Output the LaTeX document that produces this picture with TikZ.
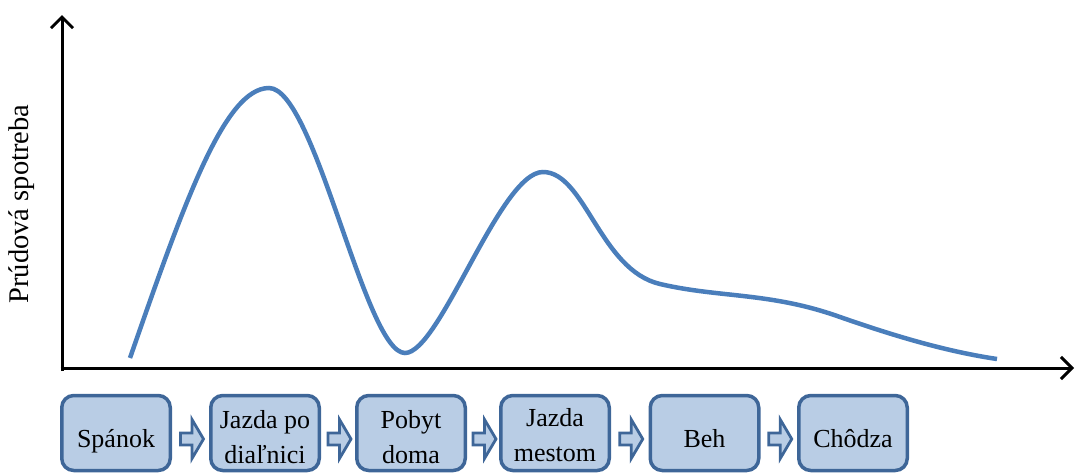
\documentclass[tikz,border=0pt]{standalone}
\usepackage{fontspec}
\setmainfont{Liberation Serif}
\usetikzlibrary{arrows.meta,calc}
\definecolor{stagefill}{HTML}{B9CDE5}
\definecolor{stageedge}{HTML}{3E6698}
\definecolor{curveblue}{HTML}{4A7EBB}
\tikzset{
  pics/flowarrow/.style={code={
    \draw[line width=2.8pt, draw=stageedge, fill=stagefill, line join=miter]
      (-11.5,-6) -- (0,-6) -- (0,-19.5) -- (11.5,0) -- (0,19.5) -- (0,6) -- (-11.5,6) -- cycle;
  }}
}
\begin{document}
\begin{tikzpicture}[x=1pt,y=-1pt,
  stage/.style={draw=stageedge, fill=stagefill, line width=3.5pt, rounded corners=12pt,
    minimum width=108.5pt, minimum height=75pt, inner sep=0pt},
  stagetext/.style={font=\fontsize{26}{35}\selectfont, align=center, inner sep=0pt},
  oneline/.style={stagetext, text height=18pt, text depth=6pt},
  axis/.style={line width=3pt, -{Straight Barb[length=11pt,width=22pt]}},
  usage/.style={draw=curveblue, line width=4.5pt, line cap=butt}
]
\useasboundingbox (0,0) rectangle (1076,475);

% axes
\coordinate (O) at (62,368);
\coordinate (ytop) at (62,15);
\coordinate (xend) at (1074,368);
\draw[axis] ([yshift=-3pt]O) -- (ytop);
\draw[axis] ([xshift=-1.5pt]O) -- (xend);

\node[font=\fontsize{28.5}{30}\selectfont, rotate=90, inner sep=0pt] (ylab) at (22,204) {Prúdová spotreba};

% current consumption over the day
\draw[usage] (130,358)
  .. controls (185,200) and (225,88) .. (269,88)
  .. controls (315,88) and (365,353) .. (405,353)
  .. controls (440,353) and (500,172) .. (543,172)
  .. controls (585,172) and (600,270) .. (660,284)
  .. controls (720,298) and (770,292) .. (840,317)
  .. controls (900,338) and (950,352) .. (997,359);

% activity sequence
\node[stage] (s1) at (116,433) {};
\node[stage] (s2) at (265,433) {};
\node[stage] (s3) at (411,433) {};
\node[stage] (s4) at (555,433) {};
\node[stage] (s5) at (704.5,433) {};
\node[stage] (s6) at (853,433) {};

\node[oneline] (t1) at ([yshift=-8pt]s1.center) {Spánok};
\node[stagetext] (t2) at ([yshift=-4pt]s2.center) {Jazda po\\diaľnici};
\node[stagetext] (t3) at ([yshift=-4pt]s3.center) {Pobyt\\doma};
\node[stagetext] (t4) at ([yshift=-2pt]s4.center) {Jazda\\mestom};
\node[oneline] (t5) at ([yshift=-8pt]s5.center) {Beh};
\node[oneline] (t6) at ([yshift=-8pt]s6.center) {Chôdza};

\foreach \a/\b in {s1/s2, s2/s3, s3/s4, s4/s5, s5/s6}
  \pic at ($(\a.east)!0.5!(\b.west)+(1.5,6)$) {flowarrow};
\end{tikzpicture}
\end{document}
